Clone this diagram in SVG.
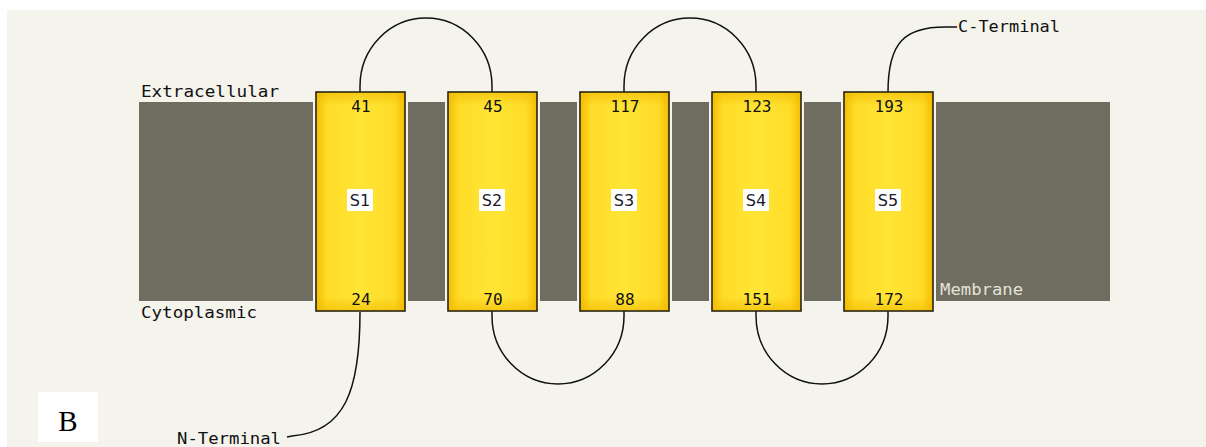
<svg xmlns="http://www.w3.org/2000/svg" width="1206" height="447" viewBox="0 0 1206 447">
<defs>
<linearGradient id="hx" x1="0" y1="0" x2="1" y2="0">
<stop offset="0" stop-color="#f2bd00"/>
<stop offset="0.12" stop-color="#ffdc28"/>
<stop offset="0.5" stop-color="#ffe535"/>
<stop offset="0.88" stop-color="#ffdc28"/>
<stop offset="1" stop-color="#f2bd00"/>
</linearGradient>
<linearGradient id="hy" x1="0" y1="0" x2="0" y2="1">
<stop offset="0" stop-color="#f0b800" stop-opacity="0.6"/>
<stop offset="0.06" stop-color="#f0b800" stop-opacity="0"/>
<stop offset="0.94" stop-color="#f0b800" stop-opacity="0"/>
<stop offset="1" stop-color="#f0b800" stop-opacity="0.6"/>
</linearGradient>
</defs>
<style>
.mono{font-family:"DejaVu Sans Mono","Liberation Mono",monospace;font-size:16px;fill:#111}
.num{font-family:"DejaVu Sans Mono","Liberation Mono",monospace;font-size:16px;fill:#111;text-anchor:middle}
.lbl{font-family:"DejaVu Sans","Liberation Sans",sans-serif;font-size:16px;fill:#1a1a2a;text-anchor:middle}
.gap{fill:#f4f3ec}
.box{fill:url(#hx);stroke:#2a2410;stroke-width:1.6}
.shade{fill:url(#hy)}
.tag{fill:#ffffff}
.loop{fill:none;stroke:#111;stroke-width:1.5}
</style>
<rect x="0" y="0" width="1206" height="447" fill="#ffffff"/>
<rect x="7" y="10" width="1199" height="437" fill="#f4f3ec"/>
<rect id="membrane" x="139" y="102" width="971" height="199" fill="#6f6c60"/>
<text class="mono" x="141" y="97" textLength="138" lengthAdjust="spacingAndGlyphs">Extracellular</text>
<text class="mono" x="141" y="318" textLength="116" lengthAdjust="spacingAndGlyphs">Cytoplasmic</text>
<text class="mono" x="940" y="295" textLength="83" lengthAdjust="spacingAndGlyphs" style="fill:#e4e2d8">Membrane</text>
<text class="mono" x="177" y="444" textLength="104" lengthAdjust="spacingAndGlyphs">N-Terminal</text>
<text class="mono" x="958" y="32" textLength="102" lengthAdjust="spacingAndGlyphs">C-Terminal</text>
<g id="connectors">
<path class="loop" d="M360,312 C360,390 345,432 292,436 L287,437"/>
<path class="loop" d="M360,92 V86 A66,68 0 0 1 492,86 V92"/>
<path class="loop" d="M624,92 V86 A66,68 0 0 1 756,86 V92"/>
<path class="loop" d="M492,311 V316 A66,68 0 0 0 624,316 V311"/>
<path class="loop" d="M756,311 V316 A66,68 0 0 0 888,316 V311"/>
<path class="loop" d="M888,92 C888,42 905,27 945,27 L957,27"/>
</g>
<g id="S1">
<rect class="gap" x="313" y="102" width="95" height="199"/>
<rect class="box" x="316" y="92" width="89" height="219"/>
<rect class="shade" x="317" y="93" width="87" height="217"/>
<text class="num" x="361" y="112">41</text>
<text class="num" x="361" y="305">24</text>
<rect class="tag" x="347" y="189" width="26" height="22"/>
<text class="lbl" x="360" y="206">S1</text>
</g>
<g id="S2">
<rect class="gap" x="445" y="102" width="95" height="199"/>
<rect class="box" x="448" y="92" width="89" height="219"/>
<rect class="shade" x="449" y="93" width="87" height="217"/>
<text class="num" x="493" y="112">45</text>
<text class="num" x="493" y="305">70</text>
<rect class="tag" x="479" y="189" width="26" height="22"/>
<text class="lbl" x="492" y="206">S2</text>
</g>
<g id="S3">
<rect class="gap" x="577" y="102" width="95" height="199"/>
<rect class="box" x="580" y="92" width="89" height="219"/>
<rect class="shade" x="581" y="93" width="87" height="217"/>
<text class="num" x="625" y="112">117</text>
<text class="num" x="625" y="305">88</text>
<rect class="tag" x="611" y="189" width="26" height="22"/>
<text class="lbl" x="624" y="206">S3</text>
</g>
<g id="S4">
<rect class="gap" x="709" y="102" width="95" height="199"/>
<rect class="box" x="712" y="92" width="89" height="219"/>
<rect class="shade" x="713" y="93" width="87" height="217"/>
<text class="num" x="757" y="112">123</text>
<text class="num" x="757" y="305">151</text>
<rect class="tag" x="743" y="189" width="26" height="22"/>
<text class="lbl" x="756" y="206">S4</text>
</g>
<g id="S5">
<rect class="gap" x="841" y="102" width="95" height="199"/>
<rect class="box" x="844" y="92" width="89" height="219"/>
<rect class="shade" x="845" y="93" width="87" height="217"/>
<text class="num" x="889" y="112">193</text>
<text class="num" x="889" y="305">172</text>
<rect class="tag" x="875" y="189" width="26" height="22"/>
<text class="lbl" x="888" y="206">S5</text>
</g>
<g id="panel-label">
<rect x="38" y="392" width="60" height="50" fill="#ffffff"/>
<text x="68" y="431" text-anchor="middle" style="font-family:'Liberation Serif','Times New Roman',serif;font-size:29px;fill:#000">B</text>
</g>
</svg>
